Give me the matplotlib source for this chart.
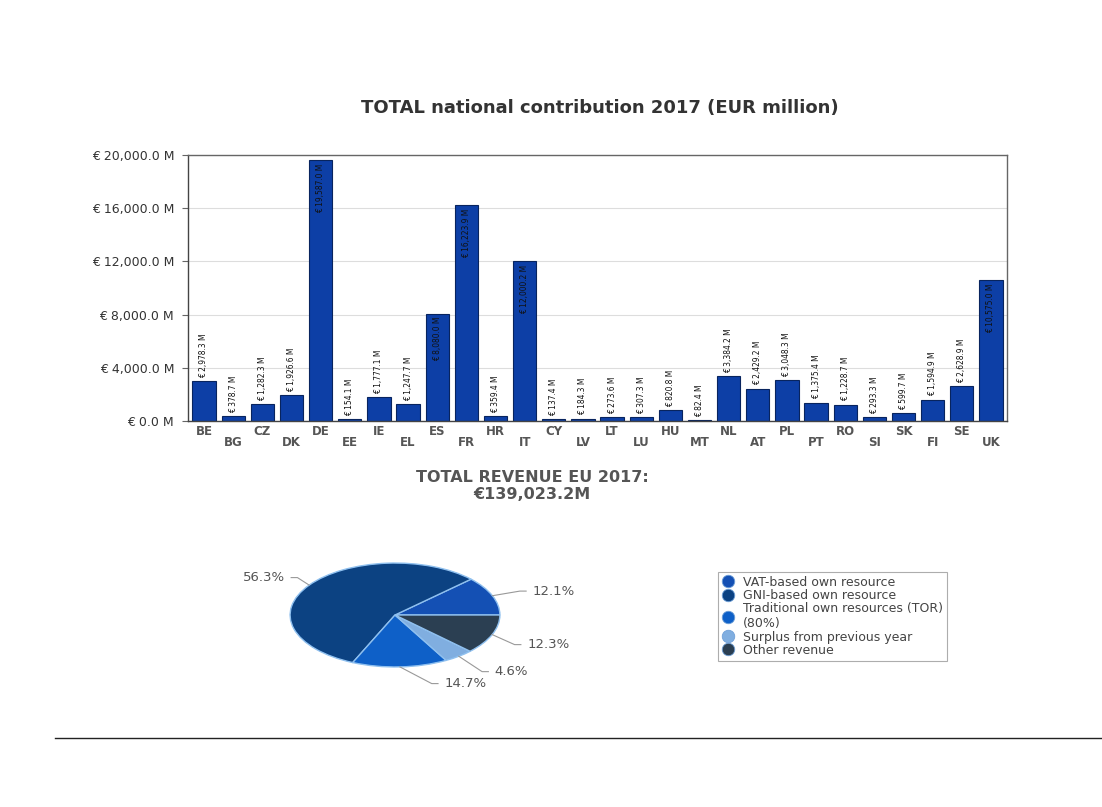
import matplotlib
matplotlib.use("Agg")
import matplotlib.pyplot as plt
from matplotlib import font_manager
from matplotlib.lines import Line2D
import numpy as np

# Bar chart data (EUR million)
countries = ["BE", "BG", "CZ", "DK", "DE", "EE", "IE", "EL", "ES", "FR",
             "HR", "IT", "CY", "LV", "LT", "LU", "HU", "MT", "NL", "AT",
             "PL", "PT", "RO", "SI", "SK", "FI", "SE", "UK"]
contributions = [2978.3, 378.7, 1282.3, 1926.6, 19587.0, 154.1, 1777.1, 1247.7,
                 8080.0, 16223.9, 359.4, 12000.2, 137.4, 184.3, 273.6, 307.3,
                 820.8, 82.4, 3384.2, 2429.2, 3048.3, 1375.4, 1228.7, 293.3,
                 599.7, 1594.9, 2628.9, 10575.0]
y_ticks = [0, 4000, 8000, 12000, 16000, 20000]

# Pie data (share of total revenue, %)
revenue_sources = ["VAT-based own resource", "GNI-based own resource",
                   "Traditional own resources (TOR)\n(80%)",
                   "Surplus from previous year", "Other revenue"]
revenue_shares = [12.1, 56.3, 14.7, 4.6, 12.3]
total_revenue = "€139,023.2M"

W, H = 1102, 807
fig = plt.figure(figsize=(W / 100, H / 100), dpi=100)
fig.patch.set_facecolor("white")

def fx(px):
    return px / W

def fy(py):
    return 1 - py / H

# pick a narrow font for the bar value labels if one exists
names = {f.name for f in font_manager.fontManager.ttflist}
if "Liberation Sans Narrow" in names:
    narrow = dict(family="Liberation Sans Narrow")
else:
    narrow = dict(family="DejaVu Sans", stretch="condensed")

# ---------------- bar chart ----------------
ax = fig.add_axes([fx(188), fy(421), fx(1007) - fx(188), fy(155) - fy(421)])
bar_color = "#0d3fa6"
x = np.arange(len(countries))
ax.bar(x, contributions, width=0.8, color=bar_color, edgecolor="#08245e", linewidth=0.8, zorder=2)
ax.set_xlim(-0.55, len(countries) - 0.45)
ax.set_ylim(0, 20000)
ax.set_yticks(y_ticks)
ax.set_yticklabels([f"€ {v:,.1f} M" for v in y_ticks], fontsize=9, color="#333333")
ax.grid(axis="y", color="#dddddd", linewidth=0.8, zorder=0)
ax.set_xticks([])
ax.tick_params(axis="y", length=4, color="#666666", pad=6)
for s in ax.spines.values():
    s.set_color("#666666")
    s.set_linewidth(1.0)
ax.spines["left"].set_color("#444444")
ax.spines["bottom"].set_color("#444444")

for i, (c, v) in enumerate(zip(countries, contributions)):
    # staggered category labels
    ypos = -0.041 if i % 2 == 0 else -0.079
    ax.text(i, ypos, c, transform=ax.get_xaxis_transform(), ha="center", va="center",
            fontsize=8.5, fontweight="bold", color="#555555")
    lbl = f"€ {v:,.1f} M"
    if v > 5000:
        ax.text(i, v - 250, lbl, rotation=90, ha="center", va="top", fontsize=6,
                color="#111111", zorder=3, **narrow)
    else:
        ax.text(i, v + 250, lbl, rotation=90, ha="center", va="bottom", fontsize=6,
                color="#111111", zorder=3, **narrow)

fig.text(fx(600), fy(108), "TOTAL national contribution 2017 (EUR million)",
         ha="center", va="center", fontsize=13, fontweight="bold", color="#333333")

fig.text(fx(532), fy(478), "TOTAL REVENUE EU 2017:", ha="center", va="center",
         fontsize=11.5, fontweight="bold", color="#555555")
fig.text(fx(532), fy(494), total_revenue, ha="center", va="center",
         fontsize=11.5, fontweight="bold", color="#555555")

# ---------------- pie chart ----------------
pie_colors = ["#1450b4", "#0c4282", "#0e60c8", "#80aee0", "#2b3f52"]
pax = fig.add_axes([fx(288), fy(668), fx(502) - fx(288), fy(562) - fy(668)])
wedges, _ = pax.pie(revenue_shares, colors=pie_colors, startangle=0, counterclock=True,
                    wedgeprops=dict(edgecolor="#8fc0ef", linewidth=1.0))
pax.set_aspect("auto")
pax.set_xlim(-1.02, 1.02)
pax.set_ylim(-1.02, 1.02)
pax.axis("off")

# label anchor spots (pie-axes data coords) and alignment
label_spots = [(1.31, 0.46, "left"), (-1.05, 0.72, "right"), (0.47, -1.32, "left"),
               (0.95, -1.09, "left"), (1.26, -0.57, "left")]
for w, share, (tx, ty, ha) in zip(wedges, revenue_shares, label_spots):
    mid = np.deg2rad((w.theta1 + w.theta2) / 2)
    ex, ey = np.cos(mid), np.sin(mid)
    gap = 0.06 if ha == "left" else -0.06
    pax.plot([ex, tx - gap * 2, tx - gap], [ey, ty, ty], color="#999999", lw=0.8, clip_on=False)
    pax.text(tx, ty, f"{share}%", ha=ha, va="center", fontsize=9.5, color="#555555")

handles = [Line2D([], [], marker="o", linestyle="none", markersize=9, markerfacecolor=c,
                  markeredgecolor="#6fa0d8", markeredgewidth=0.6) for c in pie_colors]
leg = fig.legend(handles, revenue_sources, loc="upper left",
                 bbox_to_anchor=(fx(718), fy(572)), frameon=True, fancybox=False,
                 fontsize=9, labelspacing=0.02, handletextpad=0.7, borderpad=0.3,
                 handlelength=1.0, borderaxespad=0)
leg.get_frame().set_edgecolor("#999999")
leg.get_frame().set_linewidth(0.8)
for t in leg.get_texts():
    t.set_color("#444444")

# page rule at the bottom
fig.add_artist(Line2D([fx(55), 1.0], [fy(738), fy(738)], color="#222222", lw=1.0))

fig.savefig("out.png", dpi=100, facecolor="white")
